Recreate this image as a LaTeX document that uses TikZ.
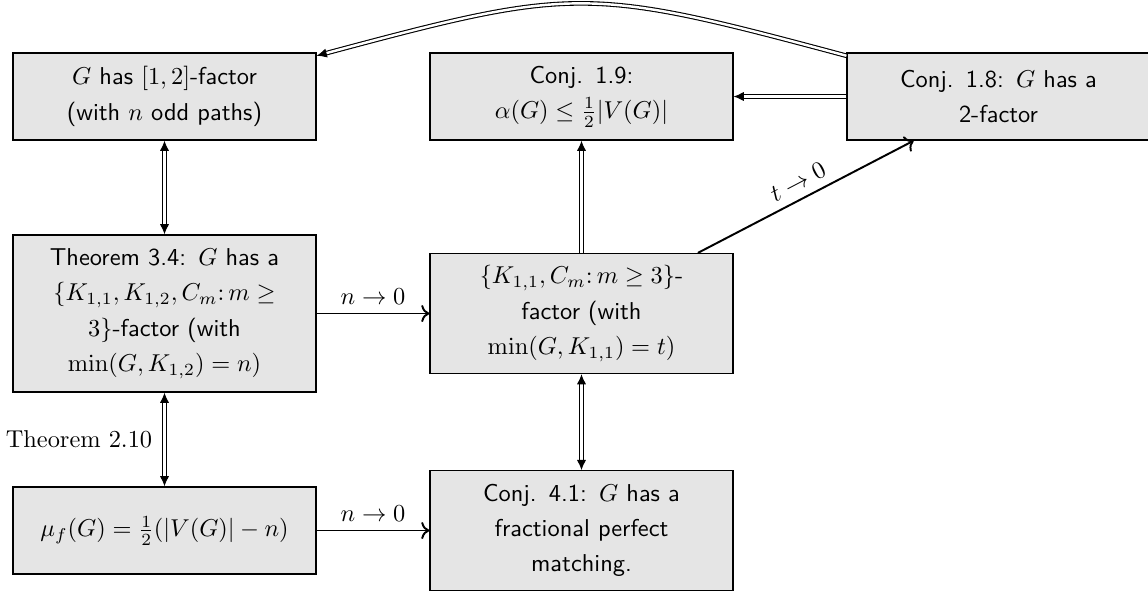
\documentclass[tikz,border=0pt]{standalone}
\usetikzlibrary{arrows.meta}
\newcommand{\fixmuskips}{\thickmuskip=5mu\relax\medmuskip=4mu\relax\thinmuskip=3mu\relax}
\begin{document}
\begin{tikzpicture}[x=0.41pt,y=-0.41pt,
  factbox/.style={draw, fill=gray!20, line width=0.5pt, text width=114.2pt,
    inner xsep=5pt, inner ysep=2pt, align=center,
    font=\sffamily\fontsize{10}{14.5}\selectfont,
    execute at begin node=\fixmuskips},
  dbl/.style={double, double distance=1pt, line width=0.45pt},
  tip/.style={-{Latex[length=4.2pt,width=3.8pt]}},
  tips/.style={{Latex[length=4.2pt,width=3.8pt]}-{Latex[length=4.2pt,width=3.8pt]}},
  single/.style={thick,->},
  lbl/.style={font=\fontsize{10}{12}\selectfont}
]
\useasboundingbox (0,0) rectangle (1148,592);

\node[factbox, minimum height=35.7pt] (A) at (164.5,96.5)
  {$G$ has $[1,2]$-factor\\(with $n$ odd paths)};
\node[factbox, minimum height=35.7pt] (B) at (581.5,96.5)
  {Conj. 1.9:\\$\alpha(G)\le\frac{1}{2}|V(G)|$};
\node[factbox, minimum height=35.7pt] (C) at (998.5,96.5)
  {Conj. 1.8: $G$ has a\\2-factor};
\node[factbox, minimum height=64.4pt] (D) at (164.5,313.5)
  {Theorem 3.4: $G$ has a\\$\{K_{1,1},K_{1,2},C_m\colon m\ge$\\$3\}$-factor (with\\$\min(G,K_{1,2})=n)$};
\node[factbox, minimum height=49.2pt] (E) at (581.5,313.5)
  {$\{K_{1,1},C_m\colon m\ge 3\}$-\\factor (with\\$\min(G,K_{1,1})=t)$};
\node[factbox, minimum height=35.7pt] (F) at (164.5,530.5)
  {$\mu_f(G)=\frac{1}{2}(|V(G)|-n)$};
\node[factbox, minimum height=49pt] (G) at (581.5,530.5)
  {Conj. 4.1: $G$ has a\\fractional perfect\\matching.};

% double implications
\draw[dbl,tips] (D) -- (A);
\draw[dbl,tips] (D) -- (F) node[midway,left,lbl,xshift=-1.5pt] {Theorem 2.10};
\draw[dbl,tip] (E) -- (B);
\draw[dbl,tips] (E) -- (G);
\draw[dbl,tip] (C) -- (B);
\draw[dbl,tip] (C.165) .. controls +(165:110pt) and +(15:110pt) .. (A.15);

% limits
\draw[single] (D) -- (E) node[midway,above,lbl] {$n\to 0$};
\draw[single] (F) -- (G) node[midway,above,lbl] {$n\to 0$};
\draw[single] (E) -- (C) node[midway,above,sloped,lbl] {$t\to 0$};
\end{tikzpicture}
\end{document}
